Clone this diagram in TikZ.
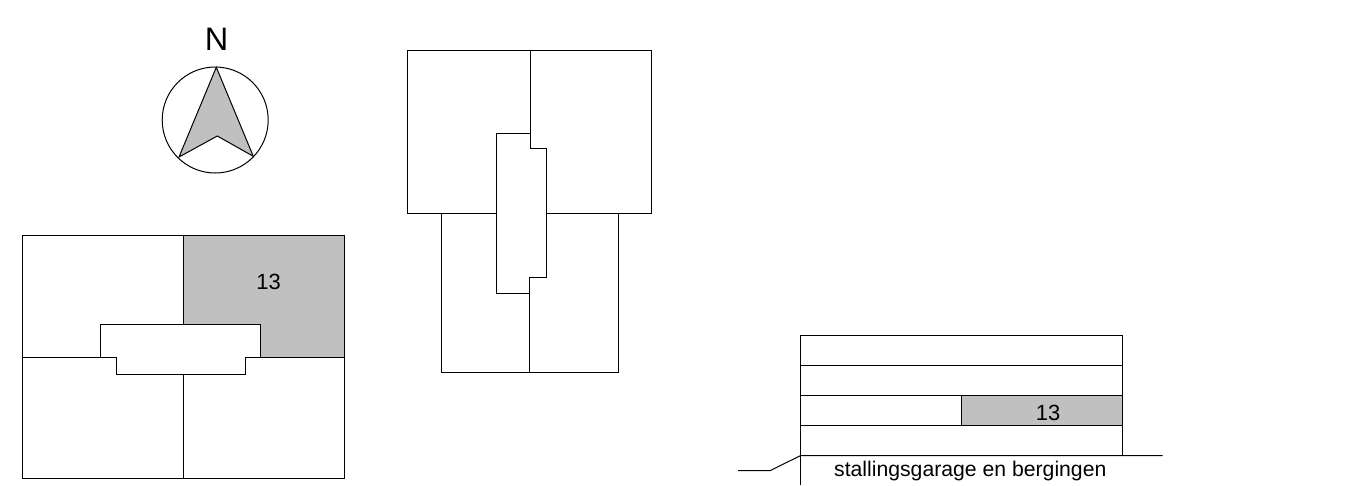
\documentclass[tikz,border=0pt]{standalone}
\usepackage{fontspec}
\setmainfont{Liberation Sans}
\definecolor{fillgrey}{HTML}{C0C0C0}
\tikzset{
  plan/.style={draw=black,line width=1pt,line join=miter},
  shaded/.style={fill=fillgrey,draw=black,line width=1pt},
  lab/.style={inner sep=0pt,text=black,anchor=base}
}
\begin{document}
\begin{tikzpicture}[x=1pt,y=-1pt]
\useasboundingbox[fill=white] (0,0) rectangle (1358,485);
% compass
\draw[plan] (215.2,120) circle[radius=53];
\draw[shaded,line join=miter] (216.3,67.3) -- (179,157) -- (217.3,136) -- (253.3,156.3) -- cycle;
\node[lab,font=\fontsize{32.5}{33}\selectfont] (north) at (216.6,50.7) {N};
% floor plan
\fill[fillgrey] (183.3,235.7) rectangle (344.3,357.3);
\draw[plan] (22,235.7) rectangle (344.3,478.5);
\draw[plan] (183.3,235.7) -- (183.3,324.7);
\draw[plan] (183.3,374.3) -- (183.3,478.5);
\draw[plan] (22,357.3) -- (116.3,357.3);
\draw[plan] (245.3,357.3) -- (344.3,357.3);
\draw[plan,fill=white] (100.7,357.3) -- (100.7,324.7) -- (260.3,324.7) -- (260.3,357.3) -- (245.3,357.3) -- (245.3,374.3) -- (116.3,374.3) -- (116.3,357.3) -- cycle;
\node[lab,font=\fontsize{22}{22}\selectfont] (unitA) at (268.7,289.3) {13};
% building elevation
\draw[plan] (407.7,50.3) rectangle (651.3,213);
\draw[plan] (441.3,213) -- (441.3,372.3) -- (618,372.3) -- (618,213);
\draw[plan] (530.3,50.3) -- (530.3,133.3);
\draw[plan] (529.3,293) -- (529.3,372.3);
\draw[plan,fill=white] (530.3,133.3) -- (496.7,133.3) -- (496.7,293) -- (529.3,293) -- (529.3,277.3) -- (546.3,277.3) -- (546.3,148.7) -- (530.3,148.7) -- cycle;
% section
\fill[fillgrey] (961.3,395.3) rectangle (1122.3,425.3);
\draw[plan] (800.3,485) -- (800.3,335) -- (1122.3,335) -- (1122.3,455.7);
\draw[plan] (800.3,365) -- (1122.3,365);
\draw[plan] (800.3,395.3) -- (1122.3,395.3);
\draw[plan] (800.3,425.3) -- (1122.3,425.3);
\draw[plan] (961.3,395.3) -- (961.3,425.3);
\draw[plan] (738,470.7) -- (770,470.7) -- (800.3,455.7) -- (1162.7,455.7);
\node[lab,font=\fontsize{22}{22}\selectfont] (unitB) at (1048,420.3) {13};
\node[lab,font=\fontsize{21.2}{22}\selectfont] (garage) at (970.3,476.8) {stallingsgarage en bergingen};
\end{tikzpicture}
\end{document}
